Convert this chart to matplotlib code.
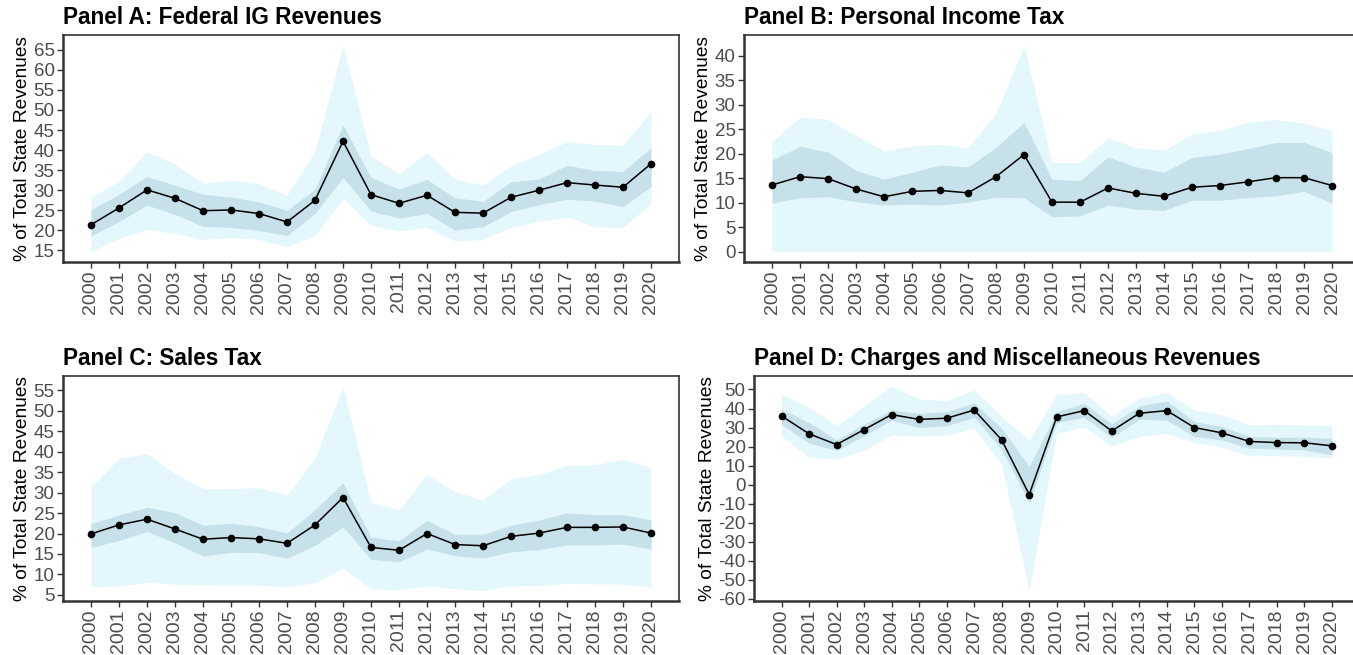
import matplotlib
matplotlib.use("Agg")
import matplotlib.pyplot as plt
import numpy as np

plt.rcParams['font.family'] = ['Liberation Sans', 'DejaVu Sans']

years = list(range(2000, 2021))
year_labels = [str(y) for y in years]

# Panel A: Federal IG Revenues
a_mean = [21.4, 25.6, 30.1, 28.0, 24.9, 25.1, 24.2, 22.1, 27.5, 42.2, 28.9, 26.75, 28.75, 24.5, 24.3, 28.25, 30.0, 31.9, 31.3, 30.75, 36.6]
a_in_hi = [25.1, 29.0, 33.4, 31.25, 29.0, 28.3, 27.1, 25.0, 30.25, 46.25, 33.2, 30.25, 32.7, 28.1, 27.25, 32.1, 32.8, 36.25, 34.9, 34.7, 40.6]
a_in_lo = [18.6, 22.2, 26.3, 24.0, 21.0, 20.75, 20.0, 18.7, 24.25, 33.2, 24.8, 23.1, 24.2, 20.1, 20.9, 24.7, 26.4, 27.75, 27.3, 25.9, 30.9]
a_out_hi = [28.3, 32.25, 39.5, 36.5, 31.7, 32.5, 31.7, 28.8, 39.7, 66.1, 38.5, 34.1, 39.4, 32.75, 31.25, 36.1, 38.9, 42.1, 41.4, 41.25, 49.6]
a_out_lo = [14.7, 18.0, 20.3, 19.2, 17.7, 18.3, 17.7, 16.0, 18.7, 28.0, 21.3, 19.9, 20.8, 17.4, 17.7, 20.75, 22.25, 23.3, 20.9, 20.7, 26.75]

# Panel B: Personal Income Tax
b_mean = [13.6, 15.3, 14.9, 12.8, 11.2, 12.3, 12.5, 12.0, 15.3, 19.8, 10.1, 10.1, 13.0, 11.9, 11.3, 13.15, 13.5, 14.25, 15.1, 15.1, 13.5]
b_in_hi = [18.7, 21.5, 20.3, 16.6, 14.8, 16.2, 17.7, 17.3, 21.3, 26.4, 14.8, 14.5, 19.3, 17.3, 16.2, 19.2, 19.9, 21.0, 22.3, 22.3, 20.2]
b_in_lo = [9.9, 11.0, 11.2, 10.2, 9.5, 9.7, 9.5, 10.1, 11.1, 11.0, 7.1, 7.3, 9.5, 8.7, 8.4, 10.5, 10.5, 11.0, 11.4, 12.3, 9.9]
b_out_hi = [22.5, 27.4, 27.0, 23.7, 20.5, 21.6, 21.9, 21.2, 28.2, 42.1, 18.2, 18.15, 23.2, 21.2, 20.75, 24.0, 24.7, 26.4, 27.0, 26.2, 24.7]
b_out_lo = [0.0] * 21

# Panel C: Sales Tax
c_mean = [19.9, 22.1, 23.5, 21.1, 18.6, 19.0, 18.7, 17.6, 22.1, 28.8, 16.6, 15.9, 20.0, 17.3, 17.0, 19.3, 20.1, 21.5, 21.5, 21.6, 20.1]
c_in_hi = [22.4, 24.5, 26.4, 25.1, 22.0, 22.5, 21.7, 20.1, 25.8, 32.4, 19.1, 18.2, 23.2, 19.8, 19.8, 22.0, 23.3, 25.0, 24.6, 24.6, 23.3]
c_in_lo = [16.6, 18.3, 20.5, 17.7, 14.5, 15.4, 15.3, 14.0, 17.1, 21.6, 13.7, 13.1, 16.2, 14.6, 14.0, 15.5, 16.1, 17.2, 17.2, 17.4, 16.2]
c_out_hi = [31.4, 38.4, 39.5, 34.6, 31.0, 31.0, 31.2, 29.4, 38.4, 56.0, 27.6, 25.8, 34.4, 30.2, 28.2, 33.3, 34.4, 36.7, 36.8, 38.1, 36.1]
c_out_lo = [7.0, 7.2, 8.1, 7.6, 7.5, 7.4, 7.4, 6.9, 8.0, 11.5, 6.5, 6.2, 7.2, 6.5, 6.0, 7.2, 7.3, 7.8, 7.7, 7.6, 6.9]

# Panel D: Charges and Miscellaneous Revenues
d_mean = [36.1, 26.7, 21.1, 28.9, 36.8, 34.3, 34.9, 39.2, 23.5, -5.2, 35.6, 38.9, 28.2, 37.5, 38.9, 30.0, 27.2, 22.7, 22.1, 22.0, 20.4]
d_in_hi = [39.6, 32.6, 23.5, 31.9, 39.2, 37.5, 38.3, 43.0, 29.5, 9.6, 38.3, 42.7, 31.9, 41.3, 43.9, 33.1, 30.5, 25.3, 24.9, 24.9, 24.4]
d_in_lo = [31.7, 21.8, 18.0, 25.6, 33.9, 30.0, 31.0, 35.4, 18.3, -9.5, 32.6, 35.4, 24.9, 34.3, 33.9, 25.3, 23.5, 19.2, 18.7, 18.3, 15.7]
d_out_hi = [47.4, 40.6, 30.9, 41.3, 51.7, 45.0, 44.1, 49.7, 35.7, 23.5, 47.4, 48.3, 36.1, 45.6, 48.3, 39.2, 36.6, 31.4, 31.7, 31.4, 31.0]
d_out_lo = [25.6, 14.5, 13.4, 18.0, 26.0, 25.6, 26.0, 29.6, 10.5, -55.7, 27.0, 30.2, 20.4, 25.3, 27.0, 22.1, 19.7, 15.2, 15.2, 14.8, 14.0]

titles = ["Panel A: Federal IG Revenues", "Panel B: Personal Income Tax",
          "Panel C: Sales Tax", "Panel D: Charges and Miscellaneous Revenues"]
yticks = [list(range(15, 70, 5)), list(range(0, 45, 5)),
          list(range(5, 60, 5)), list(range(-60, 60, 10))]

panels = [
    (a_mean, a_in_lo, a_in_hi, a_out_lo, a_out_hi),
    (b_mean, b_in_lo, b_in_hi, b_out_lo, b_out_hi),
    (c_mean, c_in_lo, c_in_hi, c_out_lo, c_out_hi),
    (d_mean, d_in_lo, d_in_hi, d_out_lo, d_out_hi),
]

W, H = 1353, 655
fig = plt.figure(figsize=(W / 100, H / 100), dpi=100)
rects_px = [(63, 679, 35, 262), (744, 1360, 35, 262),
            (63, 679, 376, 601), (754, 1359.5, 376, 601)]

LIGHT = "#E3F7FC"
DARK = "#C6E1E9"
GREY = "#4D4D4D"

x = np.arange(len(years))
for i, (rect, data) in enumerate(zip(rects_px, panels)):
    l, r, t, b = rect
    ax = fig.add_axes([l / W, 1 - b / H, (r - l) / W, (b - t) / H])
    mean, in_lo, in_hi, out_lo, out_hi = data
    ax.fill_between(x, out_lo, out_hi, color=LIGHT, linewidth=0)
    ax.fill_between(x, in_lo, in_hi, color=DARK, linewidth=0)
    ax.plot(x, mean, color="black", linewidth=1.1, marker="o", markersize=4.5, zorder=5)
    ax.set_xlim(-1, len(years))
    allv = list(out_lo) + list(out_hi)
    lo, hi = min(allv), max(allv)
    pad = (hi - lo) * 0.05
    ax.set_ylim(lo - pad, hi + pad)
    ax.set_xticks(x)
    ax.set_xticklabels(year_labels, rotation=90, fontsize=14, color=GREY)
    ax.set_yticks(yticks[i])
    ax.set_yticklabels([str(v) for v in yticks[i]], fontsize=13.5, color=GREY)
    ax.tick_params(axis='both', length=4, width=1, color="#333333", pad=2)
    for side in ['left', 'bottom']:
        ax.spines[side].set_linewidth(1.8)
        ax.spines[side].set_color("#333333")
    for side in ['top', 'right']:
        ax.spines[side].set_linewidth(1.2)
        ax.spines[side].set_color("#333333")
    ax.set_ylabel("% of Total State Revenues", fontsize=13.8, color="black", labelpad=2)
    ax.set_title(titles[i], loc='left', fontsize=16.3, fontweight='bold', pad=8)

fig.savefig("out.png", dpi=100)
